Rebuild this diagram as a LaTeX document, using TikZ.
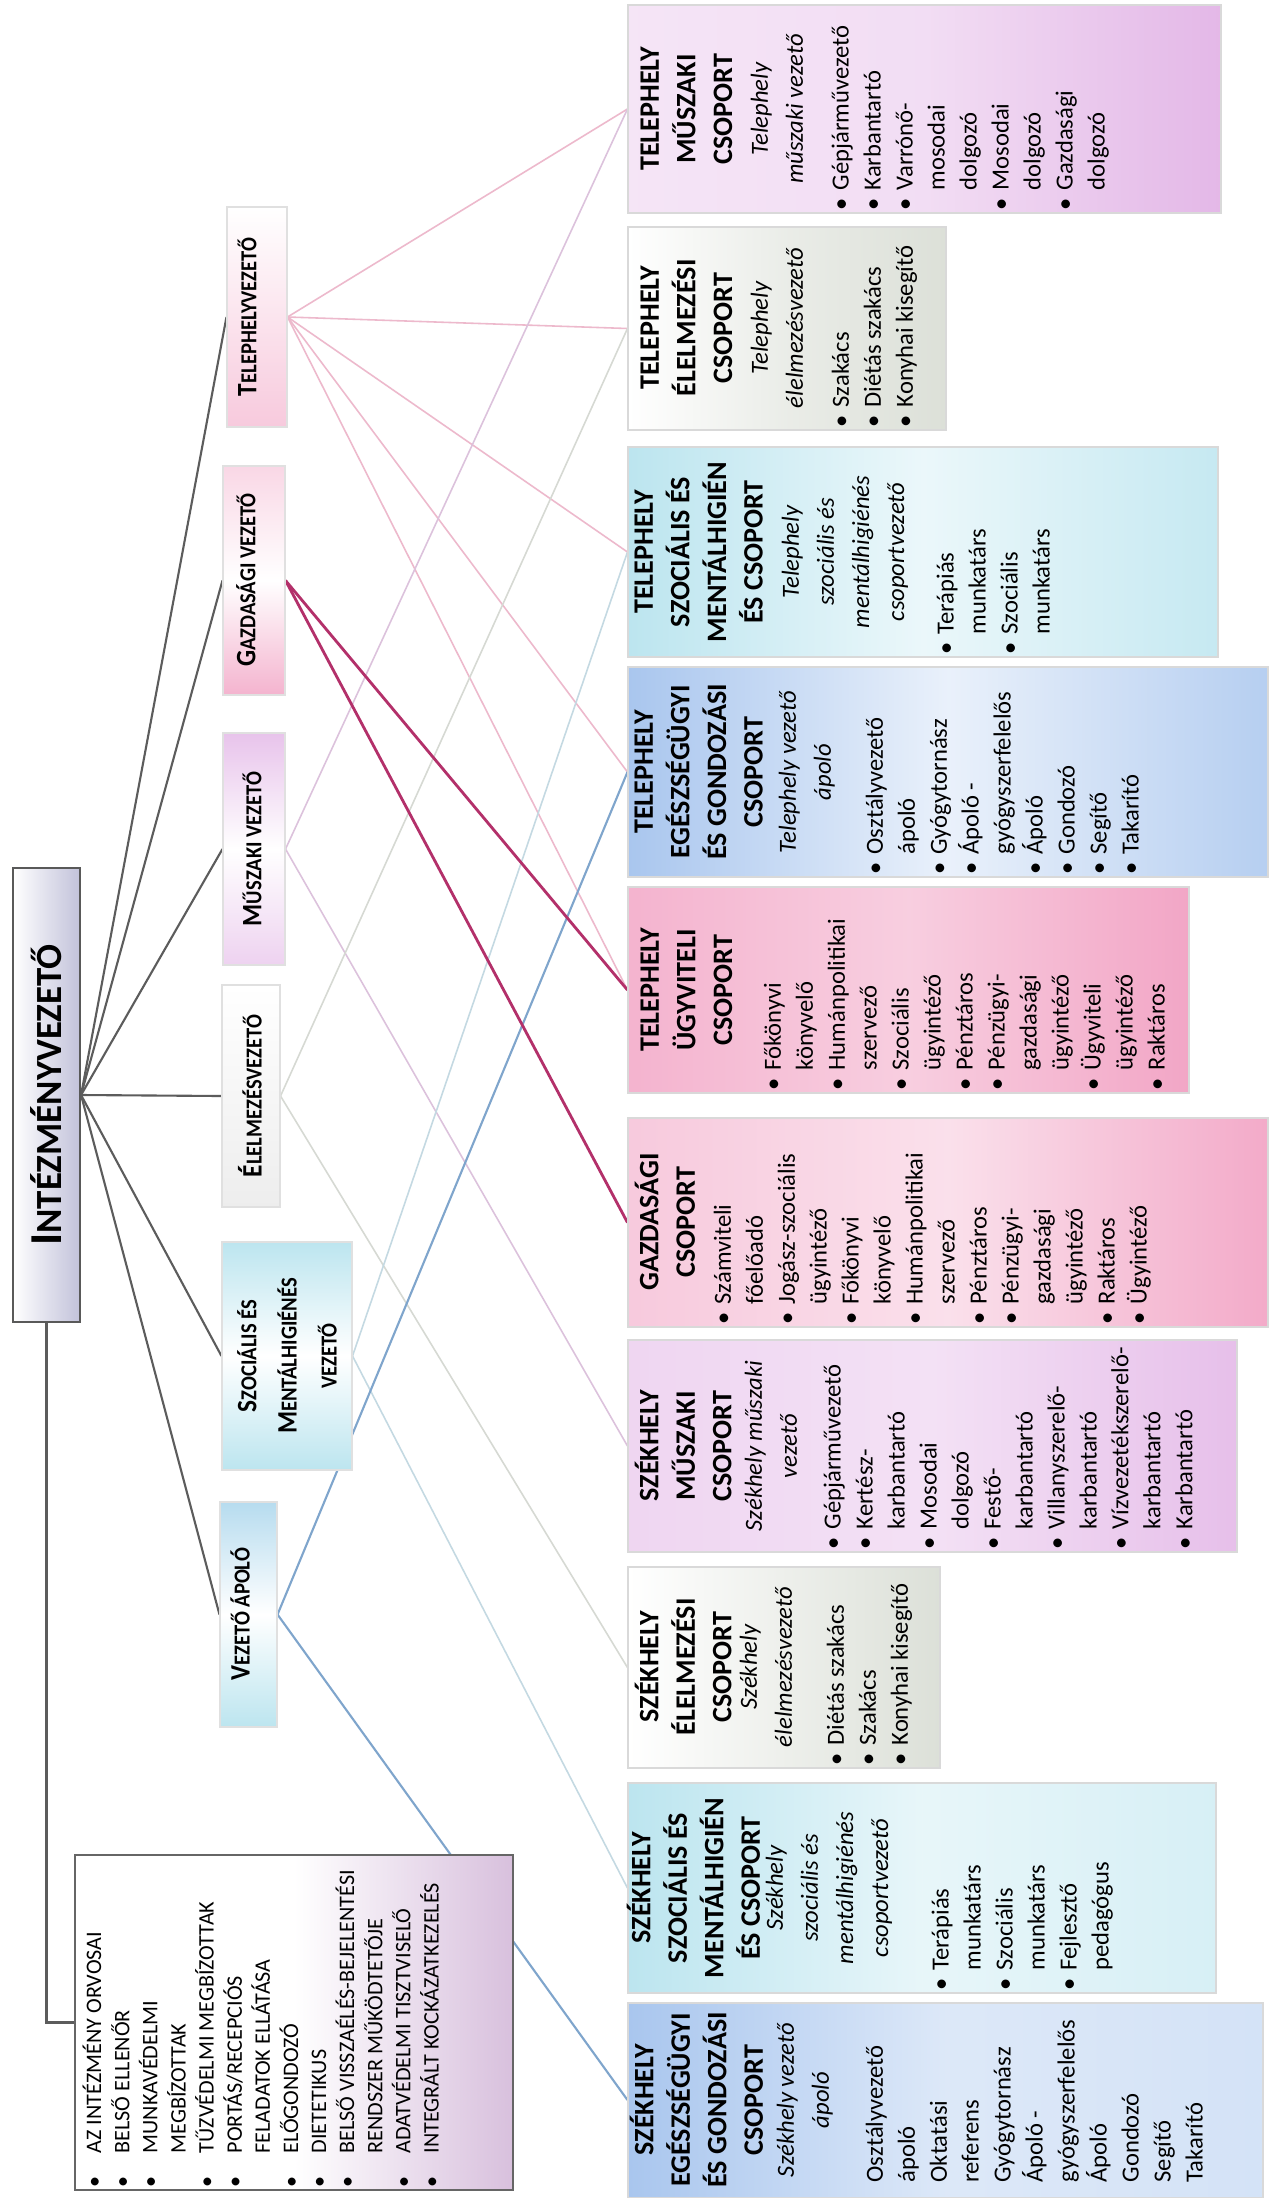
\documentclass[tikz,border=0pt]{standalone}
\usepackage{fontspec}
\setmainfont{Carlito}
\newfontfamily\condf{Carlito}[FakeStretch=0.9]
\usetikzlibrary{fit}
\pgfdeclarelayer{back}
\pgfdeclarelayer{bg}
\pgfsetlayers{back,bg,main}
\definecolor{blueG}{HTML}{A9C6EE}
\definecolor{cyanG}{HTML}{BCE5EF}
\definecolor{greyG}{HTML}{DCE0D8}
\definecolor{purpG}{HTML}{E2B4E6}
\definecolor{pinkG}{HTML}{F2A6C6}
\definecolor{lavG}{HTML}{C2C2DA}
\definecolor{listP}{HTML}{D8C0DD}
\definecolor{lnTitle}{HTML}{5C5C5C}
\definecolor{lnT}{HTML}{EDB9CC}
\definecolor{lnG}{HTML}{B3306A}
\definecolor{lnM}{HTML}{DCC2DC}
\definecolor{lnE}{HTML}{D6D9D3}
\definecolor{lnS}{HTML}{C4D9E2}
\definecolor{lnV}{HTML}{7FA5CC}
\newcommand\bu{\makebox[2mm][l]{\textbullet}}
\newcommand\ct{\hspace*{2mm}}
\newcommand\lbu{\makebox[3.4mm][l]{\textbullet}}
\newcommand\lct{\hspace*{3.4mm}}
\newcommand\smc{\fontsize{6.5}{11.4}\selectfont}
\tikzset{
  grp/.style={draw=black!15, line width=0.3pt, inner sep=0pt},
  lvl/.style={draw=black!12, line width=0.3pt, inner sep=0pt},
  hd/.style={rotate=90, anchor=north, align=center, inner sep=0pt, font=\fontsize{8}{10.4}\selectfont\bfseries},
  itl/.style={rotate=90, anchor=north, align=center, inner sep=0pt, font=\fontsize{7}{10}\selectfont\itshape},
  lst/.style={rotate=90, anchor=north west, align=left, inner sep=0pt, font=\fontsize{7}{9.1}\selectfont},
  lvt/.style={rotate=90, align=center, inner sep=0pt, font=\condf\bfseries\fontsize{8}{11.4}\selectfont},
  ctitle/.style={draw=lnTitle, line width=0.6pt},
  cT/.style={draw=lnT, line width=0.45pt},
  cG/.style={draw=lnG, line width=0.8pt},
  cM/.style={draw=lnM, line width=0.45pt},
  cE/.style={draw=lnE, line width=0.45pt},
  cS/.style={draw=lnS, line width=0.45pt},
  cV/.style={draw=lnV, line width=0.6pt}
}
\begin{document}
\begin{tikzpicture}[x=0.1mm,y=-0.1mm]
\useasboundingbox (0,0) rectangle (1272,2200);
\begin{pgfonlayer}{back}
\fill[white] (0,0) rectangle (1272,2200);
\end{pgfonlayer}

% title
\node[draw=black!65, line width=0.6pt, inner sep=0pt, left color=white, right color=lavG, fit={(13,868) (80,1322)}] (title) {};
\node[rotate=90, inner sep=0pt, font=\bfseries\fontsize{13}{15}\selectfont] (titleT) at (46,1095) {I{\fontsize{10.5}{15}\selectfont NTÉZMÉNYVEZETŐ}};

% list box
\node[draw=black!60, line width=0.5pt, inner sep=0pt, left color=white, right color=listP, middle color=white, fit={(75,1855) (513,2190)}] (list) {};
\node[rotate=90, anchor=north west, align=left, inner sep=0pt, font=\fontsize{6.3}{8}\selectfont] (listT) at (82,2188) {\lbu AZ INTÉZMÉNY ORVOSAI\\
\lbu BELSŐ ELLENŐR\\
\lbu MUNKAVÉDELMI\\
\lct MEGBÍZOTTAK\\
\lbu TŰZVÉDELMI MEGBÍZOTTAK\\
\lbu PORTÁS/RECEPCIÓS\\
\lct FELADATOK ELLÁTÁSA\\
\lbu ELŐGONDOZÓ\\
\lbu DIETETIKUS\\
\lbu BELSŐ VISSZAÉLÉS-BEJELENTÉSI\\
\lct RENDSZER MŰKÖDTETŐJE\\
\lbu ADATVÉDELMI TISZTVISELŐ\\
\lbu INTEGRÁLT KOCKÁZATKEZELÉS};

% second level
\node[lvl, top color=white, bottom color=pinkG!60, fit={(227,207) (287,427)}] (tv) {};
\node[lvt] (tvT) at (247,317) {T{\smc ELEPHELYVEZETŐ}};
\node[lvl, top color=pinkG!45, bottom color=pinkG!85, middle color=white, fit={(223,466) (285,695)}] (gv) {};
\node[lvt] (gvT) at (246,580) {G{\smc AZDASÁGI VEZETŐ}};
\node[lvl, top color=purpG!80, bottom color=purpG!60, middle color=white, fit={(223,733) (285,965)}] (mv) {};
\node[lvt] (mvT) at (252,849) {M{\smc ŰSZAKI VEZETŐ}};
\node[lvl, top color=white, bottom color=black!7, fit={(222,985) (280,1207)}] (ev) {};
\node[lvt] (evT) at (250,1096) {É{\smc LELMEZÉSVEZETŐ}};
\node[lvl, top color=cyanG, bottom color=cyanG, middle color=white, fit={(222,1242) (352,1470)}] (sv) {};
\node[lvt] (svT) at (287,1356) {S{\smc ZOCIÁLIS ÉS}\\M{\smc ENTÁLHIGIÉNÉS}\\{\smc VEZETŐ}};
\node[lvl, top color=cyanG!70!blueG, bottom color=cyanG, middle color=white, fit={(220,1502) (277,1727)}] (va) {};
\node[lvt] (vaT) at (240,1614) {V{\smc EZETŐ ÁPOLÓ}};

% groups
\node[grp, left color=purpG!35, right color=purpG!95, middle color=purpG!45, fit={(628,5) (1221,213)}] (tm) {};
\node[hd] (tmH) at (640,109) {TELEPHELY\\MŰSZAKI\\CSOPORT};
\node[itl] (tmI) at (750,109) {Telephely\\műszaki vezető};
\node[lst] (tmL) at (831,211) {\bu Gépjárművezető\\\bu Karbantartó\\\bu Varrónő-\\\ct mosodai\\\ct dolgozó\\\bu Mosodai\\\ct dolgozó\\\bu Gazdasági\\\ct dolgozó};

\node[grp, left color=white, right color=greyG, middle color=greyG!60, fit={(628,227) (946,430)}] (te) {};
\node[hd] (teH) at (640,328) {TELEPHELY\\ÉLELMEZÉSI\\CSOPORT};
\node[itl] (teI) at (750,328) {Telephely\\élelmezésvezető};
\node[lst] (teL) at (831,428) {\bu Szakács\\\bu Diétás szakács\\\bu Konyhai kisegítő};

\node[grp, left color=cyanG, right color=cyanG!85, middle color=cyanG!30, fit={(628,447) (1218,657)}] (ts) {};
\node[hd] (tsH) at (634,552) {TELEPHELY\\SZOCIÁLIS ÉS\\MENTÁLHIGIÉN\\ÉS CSOPORT};
\node[itl] (tsI) at (781,552) {Telephely\\szociális és\\mentálhigiénés\\csoportvezető};
\node[lst] (tsL) at (936,655) {\bu Terápiás\\\ct munkatárs\\\bu Szociális\\\ct munkatárs};

\node[grp, left color=blueG, right color=blueG!85, middle color=blueG!25, fit={(628,667) (1268,877)}] (tg) {};
\node[hd] (tgH) at (634,772) {TELEPHELY\\EGÉSZSÉGÜGYI\\ÉS GONDOZÁSI\\CSOPORT};
\node[itl] (tgI) at (778,772) {Telephely vezető\\ápoló};
\node[lst] (tgL) at (865,875) {\bu Osztályvezető\\\ct ápoló\\\bu Gyógytornász\\\bu Ápoló -\\\ct gyógyszerfelelős\\\bu Ápoló\\\bu Gondozó\\\bu Segítő\\\bu Takarító};

\node[grp, left color=pinkG!85, right color=pinkG, middle color=pinkG!55, fit={(628,887) (1189,1093)}] (tu) {};
\node[hd] (tuH) at (640,990) {TELEPHELY\\ÜGYVITELI\\CSOPORT};
\node[lst] (tuL) at (763,1091) {\bu Főkönyvi\\\ct könyvelő\\\bu Humánpolitikai\\\ct szervező\\\bu Szociális\\\ct ügyintéző\\\bu Pénztáros\\\bu Pénzügyi-\\\ct gazdasági\\\ct ügyintéző\\\bu Ügyviteli\\\ct ügyintéző\\\bu Raktáros};

\node[grp, left color=pinkG!60, right color=pinkG!95, middle color=pinkG!35, fit={(628,1118) (1268,1327)}] (gc) {};
\node[hd] (gcH) at (634,1222) {GAZDASÁGI\\CSOPORT};
\node[lst] (gcL) at (713,1325) {\bu Számviteli\\\ct főelőadó\\\bu Jogász-szociális\\\ct ügyintéző\\\bu Főkönyvi\\\ct könyvelő\\\bu Humánpolitikai\\\ct szervező\\\bu Pénztáros\\\bu Pénzügyi-\\\ct gazdasági\\\ct ügyintéző\\\bu Raktáros\\\bu Ügyintéző};

\node[grp, left color=purpG!55, right color=purpG!85, middle color=purpG!40, fit={(628,1340) (1237,1552)}] (sm) {};
\node[hd] (smH) at (634,1446) {SZÉKHELY\\MŰSZAKI\\CSOPORT};
\node[itl] (smI) at (744,1446) {Székhely műszaki\\vezető};
\node[lst] (smL) at (823,1550) {\bu Gépjárművezető\\\bu Kertész-\\\ct karbantartó\\\bu Mosodai\\\ct dolgozó\\\bu Festő-\\\ct karbantartó\\\bu Villanyszerelő-\\\ct karbantartó\\\bu Vízvezetékszerelő-\\\ct karbantartó\\\bu Karbantartó};

\node[grp, left color=white, right color=greyG, middle color=greyG!50, fit={(628,1567) (940,1768)}] (se) {};
\node[hd] (seH) at (634,1667) {SZÉKHELY\\ÉLELMEZÉSI\\CSOPORT};
\node[itl] (seI) at (739,1667) {Székhely\\élelmezésvezető};
\node[lst] (seL) at (826,1766) {\bu Diétás szakács\\\bu Szakács\\\bu Konyhai kisegítő};

\node[grp, left color=cyanG, right color=cyanG!60, middle color=cyanG!35, fit={(628,1783) (1216,1993)}] (ss) {};
\node[hd] (ssH) at (626,1888) {SZÉKHELY\\SZOCIÁLIS ÉS\\MENTÁLHIGIÉN\\ÉS CSOPORT};
\node[itl] (ssI) at (765,1888) {Székhely\\szociális és\\mentálhigiénés\\csoportvezető};
\node[lst] (ssL) at (931,1991) {\bu Terápiás\\\ct munkatárs\\\bu Szociális\\\ct munkatárs\\\bu Fejlesztő\\\ct pedagógus};

\node[grp, left color=blueG, right color=blueG!50, middle color=blueG!40, fit={(628,2003) (1263,2197)}] (sg) {};
\node[hd] (sgH) at (629,2100) {SZÉKHELY\\EGÉSZSÉGÜGYI\\ÉS GONDOZÁSI\\CSOPORT};
\node[itl] (sgI) at (776,2100) {Székhely vezető\\ápoló};
\node[lst] (sgL) at (865,2183) {Osztályvezető\\ápoló\\Oktatási\\referens\\Gyógytornász\\Ápoló -\\gyógyszerfelelős\\Ápoló\\Gondozó\\Segítő\\Takarító};

% connectors
\begin{pgfonlayer}{bg}
\draw[ctitle] (title.east) -- (tv.west);
\draw[ctitle] (title.east) -- (gv.west);
\draw[ctitle] (title.east) -- (mv.west);
\draw[ctitle] (title.east) -- (ev.west);
\draw[ctitle] (title.east) -- (sv.west);
\draw[ctitle] (title.east) -- (va.west);
\draw[ctitle] (title.south) |- (list.west);
\draw[cT] (tv.east) -- (tm.west);
\draw[cT] (tv.east) -- (te.west);
\draw[cT] (tv.east) -- (ts.west);
\draw[cT] (tv.east) -- (tg.west);
\draw[cT] (tv.east) -- (tu.west);
\draw[cM] (mv.east) -- (tm.west);
\draw[cM] (mv.east) -- (sm.west);
\draw[cE] (ev.east) -- (te.west);
\draw[cE] (ev.east) -- (se.west);
\draw[cS] (sv.east) -- (ts.west);
\draw[cS] (sv.east) -- (ss.west);
\draw[cV] (va.east) -- (tg.west);
\draw[cV] (va.east) -- (sg.west);
\draw[cG] (gv.east) -- (tu.west);
\draw[cG] (gv.east) -- (gc.west);
\end{pgfonlayer}
\end{tikzpicture}
\end{document}
